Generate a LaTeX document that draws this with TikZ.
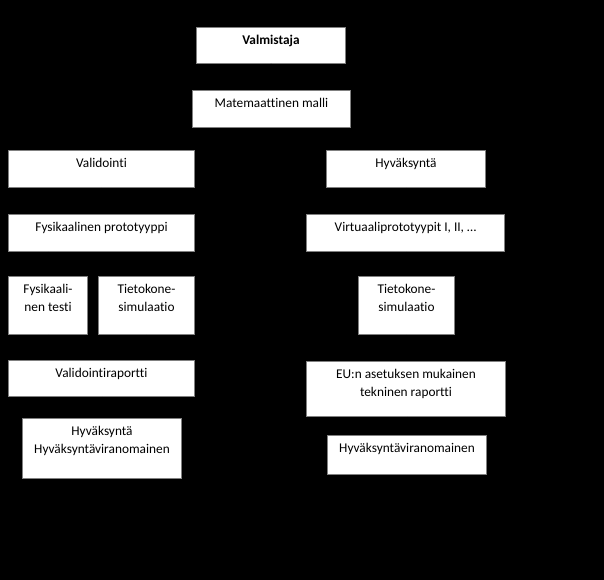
\documentclass[tikz,border=0pt]{standalone}
\usepackage{fontspec}
\setmainfont[Ligatures=NoCommon]{Carlito}
\usetikzlibrary{arrows.meta}
\begin{document}
\begin{tikzpicture}[x=0.75pt,y=-0.75pt]
\tikzset{
  box/.style={draw=gray, fill=white, line width=0.75pt, anchor=north west, inner sep=0pt},
  txt/.style={anchor=north, inner sep=0pt, align=center, yshift=-6.2pt,
    font=\fontsize{10}{13.5}\selectfont},
  conn/.style={draw=black, line width=0.75pt, -{Stealth[length=5pt]}}
}
\newcommand\bx[7][]{%
  \node[box, minimum width={(#4-#2)*0.75pt}, minimum height={(#5-#3)*0.75pt}] (#6) at (#2,#3) {};
  \node[txt,#1] (#6t) at (#6.north) {#7};}
\fill[black] (0,0) rectangle (604,580);
\useasboundingbox (0,0) rectangle (604,580);

\bx[font=\fontsize{10}{13.5}\selectfont\bfseries]{196}{27}{345}{63}{valm}{Valmistaja}
\bx{192}{90}{350}{127}{mat}{Matemaattinen malli}
\bx{8}{150}{194}{187}{valid}{Validointi}
\bx{326}{150}{485}{187}{hyv}{Hyväksyntä}
\bx{8}{214}{194}{251}{fys}{Fysikaalinen prototyyppi}
\bx{306}{214}{504}{251}{virt}{Virtuaaliprototyypit I, II, …}
\bx{8}{276}{87}{334}{fyt}{Fysikaali-\\nen testi}
\bx{98}{276}{194}{334}{tsl}{Tietokone-\\simulaatio}
\bx{358}{276}{454}{334}{tsr}{Tietokone-\\simulaatio}
\bx{8}{360}{194}{396}{vrap}{Validointiraportti}
\bx{306}{361}{505}{416}{eu}{EU:n asetuksen mukainen\\tekninen raportti}
\bx{22}{418}{181}{478}{hyv2}{Hyväksyntä\\Hyväksyntäviranomainen}
\bx{327}{435}{486}{474}{hva}{Hyväksyntäviranomainen}

\draw[conn] (valm.south) -- (mat.north);
\draw[conn] (mat.west) -| (valid.north);
\draw[conn] (mat.east) -| (hyv.north);
\draw[conn] (valid.south) -- (fys.north);
\draw[conn] (hyv.south) -- (virt.north -| hyv.south);
\draw[conn] (fys.south -| fyt.north) -- (fyt.north);
\draw[conn] (fys.south -| tsl.north) -- (tsl.north);
\draw[conn] (virt.south -| tsr.north) -- (tsr.north);
\draw[conn] (fyt.south) -- (vrap.north -| fyt.south);
\draw[conn] (tsl.south) -- (vrap.north -| tsl.south);
\draw[conn] (tsr.south) -- (eu.north -| tsr.south);
\draw[conn] (vrap.south -| hyv2.north) -- (hyv2.north);
\draw[conn] (eu.south -| hva.north) -- (hva.north);
\end{tikzpicture}
\end{document}
